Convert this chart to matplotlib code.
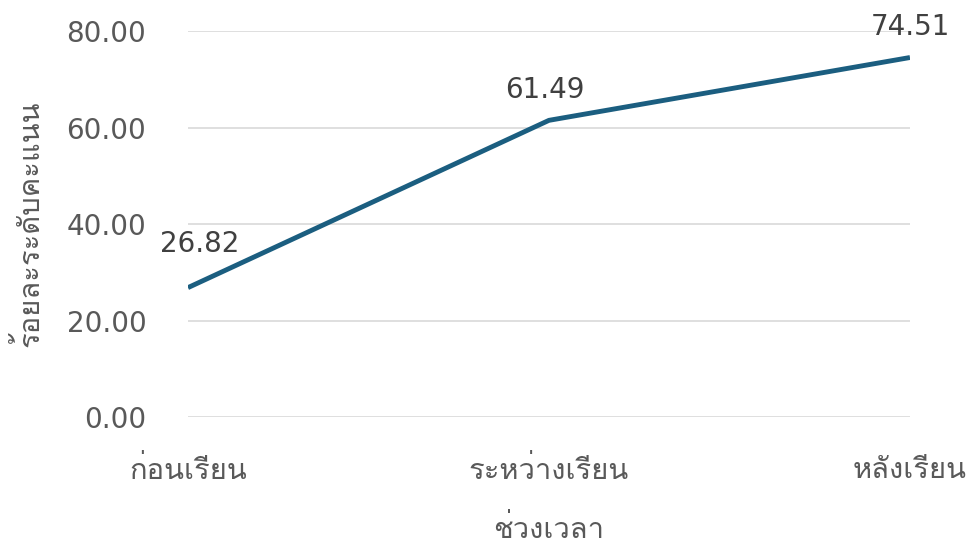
import matplotlib
matplotlib.use('Agg')
import matplotlib.pyplot as plt
from matplotlib import font_manager
from matplotlib.ft2font import FT2Font

# Data
periods = ['ก่อนเรียน', 'ระหว่างเรียน', 'หลังเรียน']
scores = [26.82, 61.49, 74.51]
y_ticks = [0, 20, 40, 60, 80]

# Find an installed font that has Thai glyphs
thai_family = None
for f in font_manager.fontManager.ttflist:
    try:
        if 0x0E01 in FT2Font(f.fname).get_charmap():
            thai_family = f.name
            break
    except Exception:
        continue
families = ([thai_family] if thai_family else []) + ['DejaVu Sans']
plt.rcParams['font.family'] = families

fig = plt.figure(figsize=(9.7, 5.57), dpi=100)
ax = fig.add_axes([0.1938, 0.2513, 0.7443, 0.693])

x = list(range(len(periods)))
ax.plot(x, scores, color='#1b5e80', linewidth=3.5, solid_capstyle='butt')

# label offsets (points) as placed in the original
offsets = [(8.5, 26), (-3, 16), (0, 16)]
for xi, v, (dx, dy) in zip(x, scores, offsets):
    ax.annotate(f'{v:.2f}', (xi, v), textcoords='offset points', xytext=(dx, dy),
                ha='center', va='baseline', fontsize=20, color='#404040',
                family='DejaVu Sans', annotation_clip=False)

ax.set_xlim(0, len(periods) - 1)
ax.set_ylim(0, 80)
ax.set_yticks(y_ticks)
ax.set_yticklabels([f'{t:.2f}' for t in y_ticks], family='DejaVu Sans')
ax.set_xticks(x)
ax.set_xticklabels(periods)

ax.grid(axis='y', color='#d9d9d9', linewidth=1.2)
ax.set_axisbelow(True)
for s in ax.spines.values():
    s.set_visible(False)
ax.tick_params(axis='y', length=0, pad=30, labelsize=20, labelcolor='#595959')
ax.tick_params(axis='x', length=0, pad=28, labelsize=21, labelcolor='#595959')

ax.set_xlabel('ช่วงเวลา', fontsize=21, color='#595959', labelpad=22)
ax.set_ylabel('ร้อยละระดับคะแนน', fontsize=21, color='#595959', labelpad=16)

fig.savefig('out.png', dpi=100)
